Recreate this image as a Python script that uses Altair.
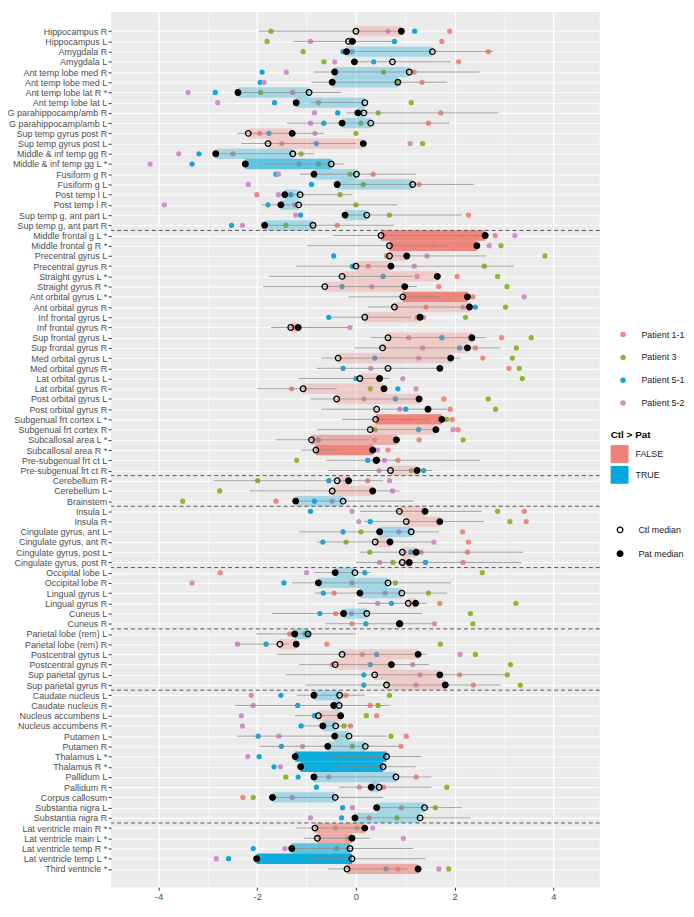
import json
import numpy as np
import pandas as pd
import altair as alt

regions = [
    "Hippocampus R", "Hippocampus L", "Amygdala R", "Amygdala L",
    "Ant temp lobe med R", "Ant temp lobe med L", "Ant temp lobe lat R *", "Ant temp lobe lat L",
    "G parahippocamp/amb R", "G parahippocamp/amb L", "Sup temp gyrus post R", "Sup temp gyrus post L",
    "Middle & inf temp gg R", "Middle & inf temp gg L *", "Fusiform g R", "Fusiform g L",
    "Post temp l L", "Post temp l R", "Sup temp g, ant part L", "Sup temp g, ant part R",
    "Middle frontal g L *", "Middle frontal g R *", "Precentral gyrus L", "Precentral gyrus R",
    "Straight gyrus L *", "Straight gyrus R *", "Ant orbital gyrus L *", "Ant orbital gyrus R",
    "Inf frontal gyrus L", "Inf frontal gyrus R", "Sup frontal gyrus L", "Sup frontal gyrus R",
    "Med orbital gyrus L", "Med orbital gyrus R", "Lat orbital gyrus L", "Lat orbital gyrus R",
    "Post orbital gyrus L", "Post orbital gyrus R", "Subgenual frt cortex L *", "Subgenual frt cortex R",
    "Subcallosal area L *", "Subcallosal area R *", "Pre-subgenual frt ct L", "Pre-subgenual frt ct R",
    "Cerebellum R", "Cerebellum L", "Brainstem",
    "Insula L", "Insula R", "Cingulate gyrus, ant L", "Cingulate gyrus, ant R",
    "Cingulate gyrus, post L", "Cingulate gyrus, post R",
    "Occipital lobe L", "Occipital lobe R", "Lingual gyrus L", "Lingual gyrus R", "Cuneus L", "Cuneus R",
    "Parietal lobe (rem) L", "Parietal lobe (rem) R", "Postcentral gyrus L", "Postcentral gyrus R",
    "Sup parietal gyrus L", "Sup parietal gyrus R",
    "Caudate nucleus L", "Caudate nucleus R", "Nucleus accumbens L", "Nucleus accumbens R",
    "Putamen L", "Putamen R", "Thalamus L *", "Thalamus R *", "Pallidum L", "Pallidum R",
    "Corpus callosum", "Substantia nigra L", "Substantia nigra R",
    "Lat ventricle main R *", "Lat ventricle main L *", "Lat ventricle temp R *", "Lat ventricle temp L *",
    "Third ventricle *",
]

group_names = ["Temporal", "Frontal", "Posterior fossa", "Insula/cingulate",
               "Occipital", "Parietal", "Central", "Ventricles"]
group_sizes = [20, 24, 3, 6, 6, 6, 13, 5]

ctl_median = [
    0.00, -0.15, 1.55, 0.74, 1.08, 0.85, -0.95, 0.18, 0.16, 0.30,
    -2.18, -1.78, -1.28, -0.50, 0.01, 1.15, -1.13, -1.16, 0.22, -0.87,
    0.51, 0.68, 0.68, 0.00, -0.28, -0.63, 0.95, 0.78, 0.18, -1.32,
    0.65, 0.54, -0.36, 0.65, 0.08, -1.07, -0.39, 0.42, 0.40, 0.29,
    -0.90, -0.81, 0.41, 0.70, -0.38, -0.48, -0.26, 0.88, 1.02, 1.12,
    0.39, 0.94, 0.94, -0.02, 0.65, 0.93, 1.06, 0.22, 0.88, -0.97,
    -1.54, -0.28, -0.42, 0.38, 0.62, -0.33, -0.34, -0.76, -0.41, -0.14,
    0.19, 0.62, 0.55, 0.81, 0.47, -0.42, 1.39, 1.30, -0.83, -0.78,
    -0.12, -0.08, -0.18,
]

pat_median = [
    0.92, -0.07, -0.19, -0.03, -0.43, -0.48, -2.39, -1.21, 0.04, -0.28,
    -1.29, 0.15, -2.84, -2.24, -0.85, -0.38, -1.44, -1.52, -0.22, -1.85,
    2.62, 2.45, 1.03, 0.71, 1.65, 0.99, 2.26, 2.30, 1.30, -1.17,
    2.35, 2.26, 1.92, 1.70, 0.48, 0.57, 1.28, 1.46, 1.74, 1.62,
    0.82, 0.34, 0.42, 1.24, -0.15, 0.34, -1.22, 1.40, 1.70, 0.48,
    0.69, 1.22, 1.08, -0.42, -0.76, 0.08, 1.21, -0.25, 0.89, -1.24,
    -1.21, 1.26, 0.72, 1.70, 1.81, -0.85, -0.45, -0.31, -0.67, -0.43,
    -0.57, -1.23, -1.12, -0.85, 0.31, -1.69, 0.42, -0.02, 0.18, -0.08,
    -1.30, -2.01, 1.26,
]

ctl_low = [
    -1.97, -1.26, -0.20, -0.03, -0.85, -0.90, -2.40, -0.92, -0.20, -1.40,
    -2.40, -2.33, -2.90, -1.84, -1.13, -0.40, -1.45, -1.92, -0.22, -1.85,
    -0.47, -0.99, 0.60, -1.22, -1.76, -1.88, -0.15, 0.24, -0.55, -1.72,
    0.30, -0.03, -0.70, -0.79, -1.16, -2.00, -0.92, -0.70, -0.28, -0.79,
    -1.61, -1.11, -0.61, -0.57, -2.88, -2.15, -1.22, 0.08, 0.16, -1.15,
    -0.79, 0.08, 0.00, -0.84, -1.30, -0.84, 0.05, -1.70, -0.62, -2.02,
    -2.40, -1.59, -1.15, -1.42, -1.03, -1.20, -2.45, -1.24, -1.11, -2.40,
    -1.95, -0.53, -0.38, -0.85, -0.34, -1.69, 0.42, -0.02, -1.22, -1.05,
    -1.30, -0.99, -0.57,
]

ctl_high = [
    0.95, 0.80, 2.78, 1.93, 2.50, 1.85, -0.30, 0.20, 2.88, 1.90,
    -0.65, 0.00, -0.85, -0.24, 1.22, 2.39, -0.07, 0.84, 2.15, 0.78,
    2.60, 1.85, 2.64, 3.20, 1.15, 1.24, 1.72, 2.30, 1.12, -0.15,
    2.64, 2.93, 2.12, 1.70, 0.68, -0.39, 1.30, 1.85, 1.50, 1.62,
    0.28, -0.38, 2.51, 1.55, 0.55, 0.89, 1.16, 2.55, 2.60, 1.68,
    1.55, 3.39, 3.35, 0.30, 1.93, 1.85, 1.43, 1.34, 1.55, 0.00,
    -1.35, 1.43, 1.48, 3.08, 2.93, 0.18, 0.68, -0.24, -0.05, 0.62,
    0.85, 1.32, 1.22, 1.53, 1.53, 0.55, 2.15, 2.32, 0.16, 0.28,
    1.16, 1.41, 1.05,
]

patient_1_1 = [
    1.90, 1.74, 2.68, 2.08, 1.18, 1.34, -1.28, -0.76, 1.72, 1.47,
    -1.95, -1.50, -2.49, -1.15, 0.35, 1.28, -2.01, -1.24, 2.28, -0.38,
    2.82, 2.20, 0.62, 0.25, 2.05, 1.68, 2.37, 1.42, 1.24, -1.26,
    2.95, 2.42, 2.57, 3.10, None, -1.30, 1.78, 1.91, 1.95, 2.07,
    1.28, 0.65, 0.85, None, 0.24, None, -1.62, 3.41, 3.45, 2.16,
    2.28, 2.26, 2.17, -2.75, -0.08, -0.44, 1.70, -0.41, -0.08, -1.34,
    -0.59, 0.13, -0.48, 2.10, 2.38, -0.20, 0.29, 0.42, -0.11, 1.02,
    0.91, None, None, 1.22, 0.56, -2.29, 0.92, 0.27, -0.42, None,
    None, None, 0.85,
]

patient_3 = [
    -1.72, -1.80, -1.07, -0.65, 0.56, 0.85, -1.93, 1.12, 0.45, 0.10,
    0.00, 1.35, -1.11, -0.76, -0.12, 0.15, -0.32, 0.00, 0.68, -1.42,
    2.15, 2.94, 3.83, 2.60, 2.87, 3.06, 1.90, 3.03, 2.22, None,
    3.55, 3.25, 3.17, 3.31, 3.37, 0.29, 2.68, 2.83, 1.84, 0.39,
    2.17, None, -1.20, 1.12, -1.99, -2.76, -3.51, 2.87, 3.12, 0.10,
    -0.20, 0.28, 0.75, 2.56, 0.80, 1.47, 3.24, 2.32, 2.37, -1.03,
    1.71, 2.42, 3.13, 3.07, 3.33, 0.68, 0.45, 0.21, -0.24, 0.71,
    -0.07, -0.30, -0.38, -1.42, 1.84, -2.08, 1.61, 0.83, 0.02, -0.17,
    -0.39, None, 1.88,
]

patient_5_1 = [
    1.19, 0.78, -0.26, 0.36, -1.90, -1.94, -2.85, -1.65, -0.37, -0.65,
    -1.76, -0.80, -3.18, -3.32, -1.62, -0.90, -1.32, -1.78, -1.12, -2.52,
    2.42, 1.60, -0.45, -0.07, 0.55, -0.28, 1.50, 2.42, -0.55, None,
    1.74, 2.10, 0.38, -0.26, 0.00, 0.85, 0.80, 1.01, 1.10, 1.27,
    -0.76, None, 0.24, 1.37, -0.55, None, -0.84, -0.92, 0.29, -0.26,
    -0.67, 1.11, 1.41, 0.18, -1.46, -0.66, 0.72, -0.73, 0.20, -0.97,
    -1.82, 0.42, 0.29, 0.16, 0.16, -1.52, -1.18, -0.84, -1.11, -1.98,
    -1.51, -1.96, -1.66, -1.17, -0.80, None, -0.27, -0.29, None, None,
    -2.08, -2.58, 0.61,
]

patient_5_2 = [
    0.65, -0.92, -0.08, -0.43, -1.41, -1.86, -3.40, -2.80, -0.84, -0.92,
    -0.83, 1.10, -3.59, -4.17, -1.57, -2.18, -1.57, -3.88, -1.22, -2.30,
    3.22, 2.70, 1.44, 1.18, 1.24, 0.32, 3.41, 2.17, 1.37, -0.12,
    1.07, 1.35, 1.27, 0.30, 0.95, 1.22, 0.16, 0.89, 1.45, 1.97,
    0.38, 0.44, 0.58, 0.47, 0.68, 0.74, -0.48, -0.08, 0.06, 0.87,
    1.58, 1.32, 0.48, -1.00, -3.32, 0.59, 0.44, -0.09, 1.59, None,
    -2.40, 2.11, 1.15, 1.30, 1.22, -2.12, -2.08, -2.32, -2.30, -1.56,
    -1.08, -2.19, -1.53, -0.55, 0.07, -1.29, -0.07, -0.92, 0.34, 0.96,
    -1.44, -2.83, 1.68,
]

# 0 = no bar, 1 = not significant, 2 = significant, 3 = strongly significant
bar_strength = [
    1, 1, 1, 0, 1, 1, 1, 1, 1, 1,
    1, 1, 1, 2, 1, 1, 1, 1, 1, 1,
    3, 3, 1, 1, 1, 1, 3, 1, 1, 1,
    1, 1, 1, 0, 1, 1, 1, 0, 3, 1,
    2, 3, 1, 1, 1, 1, 1, 1, 1, 1,
    1, 1, 1, 1, 1, 1, 1, 1, 1, 1,
    1, 1, 1, 1, 1, 1, 1, 1, 1, 1,
    1, 3, 3, 1, 1, 1, 1, 1, 2, 2,
    2, 3, 2,
]

patient_names = ["Patient 1-1", "Patient 3", "Patient 5-1", "Patient 5-2"]
patient_colors = ["#EF897D", "#8CB82B", "#12A5D8", "#D18FCA"]
bar_colors = ["#EF8177", "#00A9DB"]

n = len(regions)
groups = sum([[g] * k for g, k in zip(group_names, group_sizes)], [])

rows = pd.DataFrame({
    "idx": range(n), "region": regions,
    "ctl": ctl_median, "pat": pat_median,
    "lo": ctl_low, "hi": ctl_high, "strength": bar_strength,
})
rows["ctl_gt_pat"] = np.where(rows["ctl"] > rows["pat"], "TRUE", "FALSE")

pts = []
for name, vals in zip(patient_names, [patient_1_1, patient_3, patient_5_1, patient_5_2]):
    for i, v in enumerate(vals):
        if v is not None:
            pts.append({"idx": i, "value": v, "patient": name})
pts_df = pd.DataFrame(pts)

med = [{"idx": i, "value": v, "kind": "Ctl median"} for i, v in enumerate(ctl_median)]
med += [{"idx": i, "value": v, "kind": "Pat median"} for i, v in enumerate(pat_median)]
med_df = pd.DataFrame(med)

sep_df = pd.DataFrame({"y": [i - 0.5 for i in range(1, n) if groups[i] != groups[i - 1]]})

label_expr = "[" + ",".join(json.dumps(r) for r in regions) + "][datum.value]"

FONT = "Liberation Sans"
x_scale = alt.Scale(domain=[-4.96, 4.94], nice=False, zero=False)
y_scale = alt.Scale(domain=[-1.4, 83.3], reverse=True, nice=False, zero=False)

x_axis = alt.Axis(
    title=None, values=list(range(-4, 5)),
    labelExpr="datum.value % 2 === 0 ? '' + datum.value : ''",
    gridColor="white",
    gridWidth={"condition": {"test": "datum.value % 2 !== 0", "value": 0.6}, "value": 1.3},
    tickOpacity={"condition": {"test": "datum.value % 2 !== 0", "value": 0}, "value": 1},
    tickSize=3, tickColor="#333333", domain=False, labelFlush=False,
    labelFontSize=9.5, labelColor="#4D4D4D", labelPadding=1, labelFont=FONT,
)
y_axis = alt.Axis(
    title=None, values=list(range(n)), labelExpr=label_expr,
    gridColor="white", gridWidth=1.0, tickSize=3, tickColor="#333333",
    domain=False, labelOverlap=False, labelFlush=False, labelLimit=220,
    labelFontSize=9, labelColor="#4D4D4D", labelPadding=1.5, labelFont=FONT,
)

X = lambda f: alt.X(f, scale=x_scale, axis=x_axis)
Y = lambda f: alt.Y(f, scale=y_scale, axis=y_axis)

points = alt.Chart(pts_df).mark_circle(size=28, opacity=1).encode(
    x=X("value:Q"), y=Y("idx:Q"),
    color=alt.Color("patient:N", scale=alt.Scale(domain=patient_names, range=patient_colors),
                    legend=alt.Legend(title=None, orient="none", legendX=512, legendY=321,
                                      symbolType="circle", symbolSize=30, symbolOpacity=1,
                                      symbolStrokeWidth=0, labelOffset=14, rowPadding=13,
                                      labelFontSize=9, labelColor="#1A1A1A", labelFont=FONT)),
)

bars = alt.Chart(rows).mark_bar(orient="horizontal").encode(
    x=X("ctl:Q"), x2="pat:Q", y=Y("idx:Q"), size=alt.value(10.4),
    color=alt.Color("ctl_gt_pat:N", scale=alt.Scale(domain=["FALSE", "TRUE"], range=bar_colors),
                    legend=alt.Legend(title="Ctl > Pat", orient="none", legendX=504, legendY=422,
                                      symbolType="square", symbolSize=324, symbolOpacity=1,
                                      symbolStrokeWidth=0, labelOffset=7, rowPadding=3,
                                      titleFontSize=10, titleFontWeight="bold", titleColor="black",
                                      titlePadding=5, titleFont=FONT,
                                      labelFontSize=9, labelColor="#1A1A1A", labelFont=FONT)),
    opacity=alt.Opacity("strength:Q",
                        scale=alt.Scale(type="linear", domain=[0, 1, 2, 3],
                                        range=[0, 0.3, 0.6, 0.95], zero=False, nice=False),
                        legend=None),
)

lines = alt.Chart(rows).mark_rule(color="#8C8C8C", strokeWidth=1, opacity=0.8).encode(
    x=X("lo:Q"), x2="hi:Q", y=Y("idx:Q"),
)

seps = alt.Chart(sep_df).mark_rule(color="#555555", strokeDash=[4, 3], strokeWidth=1).encode(
    y=Y("y:Q"),
)

medians = alt.Chart(med_df).mark_point(shape="circle", filled=True, size=32, stroke="black",
                                       strokeWidth=1.3, opacity=1).encode(
    x=X("value:Q"), y=Y("idx:Q"),
    fill=alt.Fill("kind:N", scale=alt.Scale(domain=["Ctl median", "Pat median"],
                                             range=["transparent", "black"]),
                  legend=alt.Legend(title=None, orient="none", legendX=509, legendY=518,
                                    symbolType="circle", symbolSize=32, symbolStrokeColor="black",
                                    symbolStrokeWidth=1.3, symbolOpacity=1, labelOffset=14,
                                    rowPadding=13, labelFontSize=9, labelColor="#1A1A1A",
                                    labelFont=FONT)),
)

chart = alt.layer(points, bars, lines, seps, medians).resolve_scale(
    color="independent"
).properties(
    width=493, height=883,
    autosize=alt.AutoSizeParams(type="none"),
    padding={"left": 104, "top": 0, "right": 87, "bottom": 14},
).configure_view(fill="#EBEBEB", stroke=None)

chart.save("out.html", embed_options={"renderer": "svg", "actions": False})
